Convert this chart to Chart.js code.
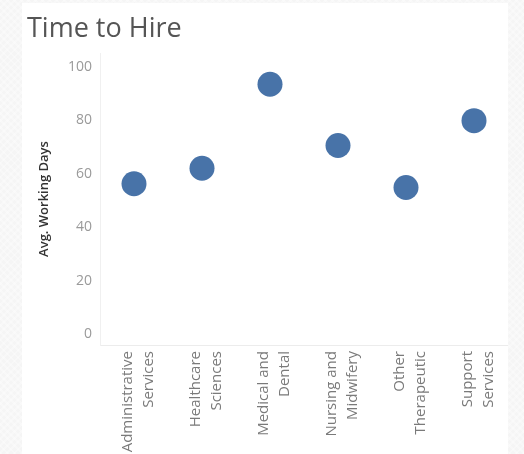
<!DOCTYPE html>
<html>
<head>
<meta charset="utf-8">
<script src="https://cdn.jsdelivr.net/npm/chart.js@4/dist/chart.umd.min.js"></script>
<style>
  html, body { margin: 0; padding: 0; }
  body {
    width: 524px; height: 454px; overflow: hidden; position: relative;
    background-color: #f5f5f5;
    background-image: repeating-linear-gradient(45deg, rgba(255,255,255,0.35) 0 2px, transparent 2px 5px),
                      repeating-linear-gradient(-45deg, rgba(255,255,255,0.35) 0 2px, transparent 2px 5px);
  }
  #panel {
    position: absolute; left: 22px; top: 3px; width: 486px; height: 451px;
    background: #ffffff;
  }
  canvas { display: block; }
</style>
</head>
<body>
<div id="panel"><canvas id="chart" width="486" height="451"></canvas></div>
<script>
// Job families (each label split over two lines)
const categories = [
  ['Administrative', 'Services'],
  ['Healthcare', 'Sciences'],
  ['Medical and', 'Dental'],
  ['Nursing and', 'Midwifery'],
  ['Other', 'Therapeutic'],
  ['Support', 'Services']
];
// Average working days to hire per job family
const avgWorkingDays = [56.2, 62.0, 93.4, 70.5, 54.8, 79.8];
// Value axis labels
const yTicks = [0, 20, 40, 60, 80, 100];

const FONT = "'Open Sans', 'Noto Sans', sans-serif";

new Chart(document.getElementById('chart'), {
  type: 'line',
  data: {
    labels: categories,
    datasets: [{
      data: avgWorkingDays,
      showLine: false,
      pointRadius: 12.5,
      pointHoverRadius: 12.5,
      pointBackgroundColor: '#4873a8',
      pointBorderColor: '#4873a8',
      pointBorderWidth: 0
    }]
  },
  options: {
    responsive: false,
    animation: false,
    layout: { autoPadding: false, padding: { left: 5, right: 0, top: 0, bottom: 0 } },
    plugins: {
      legend: { display: false },
      tooltip: { enabled: false },
      title: {
        display: true,
        text: 'Time to Hire',
        align: 'start',
        color: '#555555',
        font: { family: FONT, size: 27, weight: 'normal', lineHeight: 1.2 },
        padding: { top: 10, bottom: 7.6 }
      }
    },
    scales: {
      x: {
        offset: true,
        grid: { display: false, drawTicks: false },
        border: { display: true, color: '#ececec', width: 1 },
        ticks: {
          minRotation: 90,
          maxRotation: 90,
          padding: 6,
          labelOffset: -6,
          color: '#7a7a7a',
          font: { family: FONT, size: 15, lineHeight: 1.4 }
        },
        afterFit: (scale) => {
          scale.height = 109;
          // keep the plot running to the right edge of the panel
          scale.paddingLeft = 0;
          scale.paddingRight = 0;
        }
      },
      y: {
        min: -4.1,
        max: 105.1,
        afterBuildTicks: (scale) => { scale.ticks = yTicks.map(v => ({ value: v })); },
        grid: { display: false, drawTicks: false },
        border: { display: true, color: '#f0f0f0', width: 1 },
        ticks: {
          padding: 8,
          color: '#9a9a9a',
          font: { family: FONT, size: 14 }
        },
        title: {
          display: true,
          text: 'Avg. Working Days',
          color: '#333333',
          font: { family: FONT, size: 13, weight: '600', lineHeight: 1.2 },
          padding: { top: 9, bottom: 0 }
        },
        afterFit: (scale) => {
          scale.width = 73;
          scale.paddingTop = 0;
          scale.paddingBottom = 0;
        }
      }
    }
  }
});
</script>
</body>
</html>
